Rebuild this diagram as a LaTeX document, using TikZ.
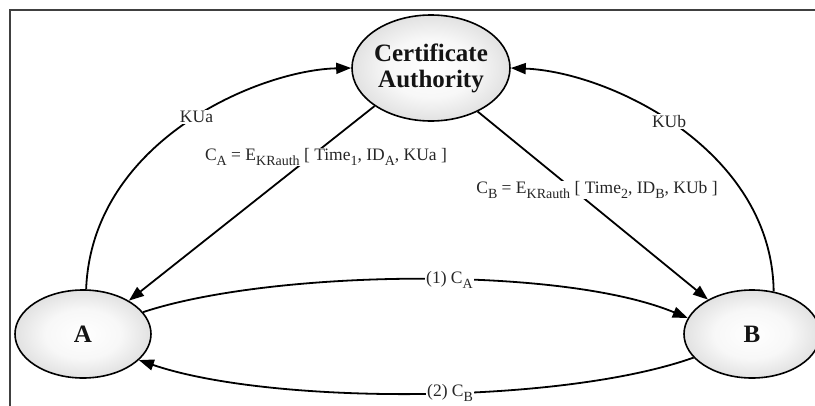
\documentclass[tikz,border=0pt]{standalone}
\usepackage{fontspec}
\setmainfont{Liberation Serif}
\usetikzlibrary{shapes.geometric,arrows.meta}

% lowered, slightly smaller index text
\newcommand{\lsub}[1]{\raisebox{-0.55ex}{\fontsize{14}{14}\selectfont #1}}

% soft glow: light centre, grey rim (edge of the ellipse at 50bp)
\pgfdeclareradialshading{partyglow}{\pgfpoint{0bp}{0bp}}{%
  color(0bp)=(white); color(14bp)=(white!97!black); color(32bp)=(black!17);
  color(44bp)=(black!32); color(50bp)=(black!42); color(72bp)=(black!42)}

\begin{document}
\begin{tikzpicture}[x=1pt,y=-1pt,
  party/.style={ellipse, draw=black, line width=1.6pt, shading=partyglow, inner sep=0pt},
  nametext/.style={font=\fontsize{25}{28}\selectfont\bfseries, text=black!92, align=center},
  flow/.style={line width=1.8pt, -{Triangle[length=15pt,width=11pt]}},
  lbl/.style={fill=white, inner sep=1pt, font=\fontsize{17.5}{18}\selectfont, text=black!85}]

\useasboundingbox (0,0) rectangle (815,405);
\clip (0,0) rectangle (815,405);

% frame
\draw[line width=1.2pt, black!75] (10,410) -- (10,10) -- (820,10);

% parties
\node[party, minimum width=158pt, minimum height=106pt] (ca) at (431,68) {};
\node[nametext] (catext) at (ca) {Certificate\\[-2pt]Authority};
\node[party, minimum width=136pt, minimum height=88pt] (a) at (83,334) {};
\node[nametext] (atext) at (a) {A};
\node[party, minimum width=136pt, minimum height=88pt] (b) at (752,334) {};
\node[nametext] (btext) at (b) {B};

% public keys sent to the authority
\draw[flow] (a.86) .. controls (92,140) and (260,70) .. (ca.west)
  node[lbl, pos=0.53] (kua) {KUa};
\draw[flow] (b.63) .. controls (772,150) and (610,72) .. (ca.east)
  node[lbl, pos=0.53] (kub) {KUb};

% certificates issued by the authority
\draw[flow] (ca.214) -- (a.36);
\draw[flow] (ca.-43) -- (b.142);
\node[lbl] (certa) at (326,157)
  {C\lsub{A} = E\lsub{KRauth} [ Time\lsub{1}, ID\lsub{A}, KUa ]};
\node[lbl] (certb) at (597,190)
  {C\lsub{B} = E\lsub{KRauth} [ Time\lsub{2}, ID\lsub{B}, KUb ]};

% certificate exchange
\draw[flow] (a.20) .. controls (270,270) and (560,265) .. (b.166)
  node[lbl, pos=0.555] (ex1) {(1) C\lsub{A}};
\draw[flow] (b.202) .. controls (560,405) and (270,405) .. (a.-25)
  node[lbl, pos=0.445] (ex2) {(2) C\lsub{B}};
\end{tikzpicture}
\end{document}
